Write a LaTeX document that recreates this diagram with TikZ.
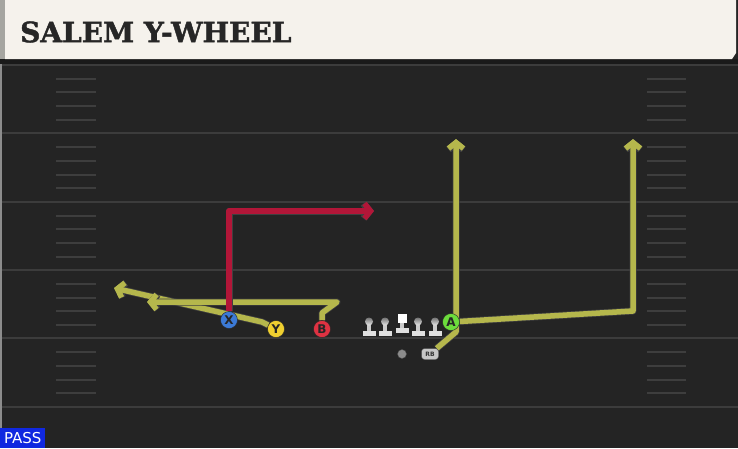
\documentclass[tikz,border=0pt]{standalone}
\usepackage{fontspec}
\setmainfont{DejaVu Sans}
\newfontfamily\slabfont[BoldFeatures={FakeBold=1.6}]{DejaVu Serif}
\usetikzlibrary{arrows.meta, positioning, calc}
\pgfdeclarelayer{field}
\pgfdeclarelayer{routes}
\pgfsetlayers{field,routes,main}
\definecolor{field_dark}{RGB}{36, 36, 36}
\definecolor{band_dark}{RGB}{26, 26, 26}
\definecolor{yard_gray}{RGB}{60, 60, 60}
\definecolor{hash_gray}{RGB}{62, 62, 62}
\definecolor{header_cream}{RGB}{245, 242, 236}
\definecolor{edge_gray}{RGB}{165, 165, 160}
\definecolor{route_olive}{RGB}{181, 183, 76}
\definecolor{route_red}{RGB}{178, 22, 56}
\definecolor{x_blue}{RGB}{60, 122, 214}
\definecolor{y_yellow}{RGB}{240, 208, 48}
\definecolor{b_red}{RGB}{222, 50, 66}
\definecolor{a_green}{RGB}{108, 220, 60}
\definecolor{pass_blue}{RGB}{16, 40, 224}

\begin{document}
\begin{tikzpicture}[
    x=1pt, y=-1pt,
    player/.style={
        circle,
        draw=black!85,
        fill=#1,
        minimum size=17pt,
        inner sep=0pt,
        thin,
        text=black!85,
        font=\fontsize{12}{12}\selectfont\bfseries
    },
    route/.style={
        line width=5.5pt,
        draw=#1,
        line join=round,
        -{Straight Barb[length=6pt,width=15pt]},
        preaction={draw=black!75, line width=7pt, line join=round}
    },
    yard/.style={
        draw=yard_gray,
        line width=2pt
    },
    hash/.style={
        draw=hash_gray,
        line width=2pt
    },
    title_text/.style={
        text=black!85,
        font=\slabfont\fontsize{28}{28}\selectfont\bfseries,
        inner sep=0pt
    },
    pass_tag/.style={
        rectangle,
        fill=pass_blue,
        text=white,
        minimum width=45pt,
        minimum height=20pt,
        inner sep=0pt,
        font=\fontsize{15}{15}\selectfont
    },
    back_tag/.style={
        rectangle,
        draw=black!70,
        fill=black!22,
        rounded corners=3pt,
        minimum width=17pt,
        minimum height=11pt,
        inner sep=0pt,
        text=black!80,
        font=\fontsize{6}{6}\selectfont\bfseries
    },
    lineman/.pic={
        \fill[black!12] (-6.5,0) rectangle (6.5,-5);
        \fill[black!20] (-2.2,-5) rectangle (2.2,-12);
        \shade[top color=black!55, bottom color=black!8] (0,-14.5) circle (4);
    },
    center_man/.pic={
        \fill[black!12] (-6.5,-3) rectangle (6.5,-8);
        \fill[black!20] (-2.2,-8) rectangle (2.2,-13);
        \fill[white] (-4.5,-13) rectangle (4.5,-22);
    },
]
\useasboundingbox (0,0) rectangle (738,448);

% Field
\begin{pgfonlayer}{field}
\fill[field_dark] (0,0) rectangle (738,448);
\fill[band_dark] (0,59) rectangle (738,64);
\foreach \yy in {65,133,202,270,338,407}
    \draw[yard] (0,\yy) -- (738,\yy);
\foreach \yy in {65,133.4,201.8,270.2,338.6}
    \foreach \k in {1,...,4} {
        \draw[hash] (56,{\yy+\k*13.7}) -- (96,{\yy+\k*13.7});
        \draw[hash] (647,{\yy+\k*13.7}) -- (686,{\yy+\k*13.7});
    }
\fill[black!45] (0,64) rectangle (2,448);
\end{pgfonlayer}

% Header
\fill[edge_gray] (0,0) rectangle (5,59);
\fill[header_cream] (5,0) -- (736,0) -- (736,53) -- (732,59) -- (5,59) -- cycle;
\node[title_text, anchor=west] (title) at (20,32) {SALEM Y-WHEEL};

% Line
\pic at (369,336) {lineman};
\pic at (385,336) {lineman};
\pic at (402,336) {center_man};
\pic at (418,336) {lineman};
\pic at (435,336) {lineman};

\node[circle, draw=black!70, fill=black!45, minimum size=9pt, inner sep=0pt] (qb) at (402,354) {};
\node[back_tag] (rb) at (430,354) {RB};

% Players
\node[player=x_blue] (x_rec) at (229,320) {X};
\node[player=y_yellow] (y_rec) at (276,329) {Y};
\node[player=b_red] (b_rec) at (322,329) {B};
\node[player=a_green] (a_rec) at (451,322) {A};

% Route points
\coordinate (x_turn) at (229,211);
\coordinate (x_end) at (374,211);
\coordinate (y_bend) at (262,322);
\coordinate (y_end) at (114,288);
\coordinate (b_up) at (322,313);
\coordinate (b_turn) at (337,302);
\coordinate (b_end) at (147,302);
\coordinate (a_turn) at (633,311);
\coordinate (a_end) at (633,139);
\coordinate (rb_turn) at (456,332);
\coordinate (rb_end) at (456,139);

% Routes
\begin{pgfonlayer}{routes}
\draw[route=route_olive] (y_rec) -- (y_bend) -- (y_end);
\draw[route=route_olive] (b_rec) -- (b_up) -- (b_turn) -- (b_end);
\draw[route=route_olive] (rb) -- (rb_turn) -- (rb_end);
\draw[route=route_olive] (a_rec) -- (a_turn) -- (a_end);
\draw[route=route_red] (x_rec) -- (x_turn) -- (x_end);
\end{pgfonlayer}

\node[pass_tag, anchor=south west] (pass) at (0,448) {PASS};
\end{tikzpicture}
\end{document}
